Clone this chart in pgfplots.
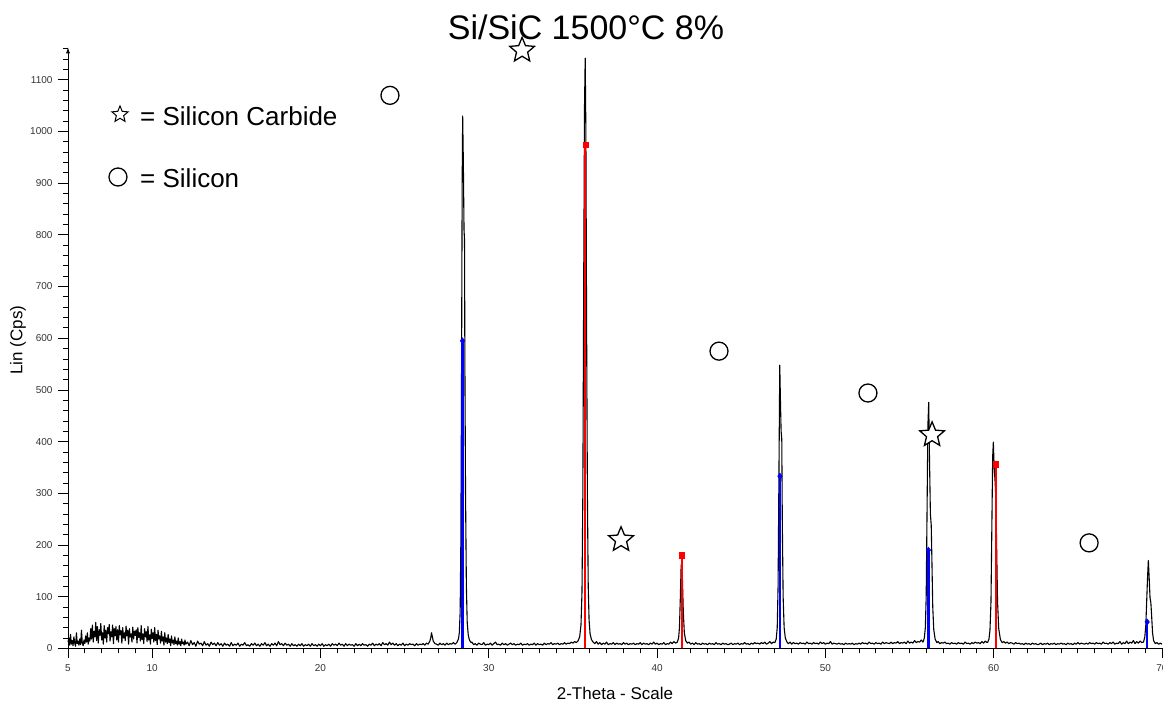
\documentclass[border=0pt]{standalone}
\usepackage{pgfplots}
\pgfplotsset{compat=1.18}
\usepackage{fontspec}
\setmainfont{Liberation Sans}
\usetikzlibrary{arrows.meta}

% open five-point star for the phase markers
\pgfdeclareplotmark{ostar}{%
  \pgfpathmoveto{\pgfpointpolar{90}{\pgfplotmarksize}}%
  \pgfpathlineto{\pgfpointpolar{126}{0.45\pgfplotmarksize}}%
  \pgfpathlineto{\pgfpointpolar{162}{\pgfplotmarksize}}%
  \pgfpathlineto{\pgfpointpolar{198}{0.45\pgfplotmarksize}}%
  \pgfpathlineto{\pgfpointpolar{234}{\pgfplotmarksize}}%
  \pgfpathlineto{\pgfpointpolar{270}{0.45\pgfplotmarksize}}%
  \pgfpathlineto{\pgfpointpolar{306}{\pgfplotmarksize}}%
  \pgfpathlineto{\pgfpointpolar{342}{0.45\pgfplotmarksize}}%
  \pgfpathlineto{\pgfpointpolar{18}{\pgfplotmarksize}}%
  \pgfpathlineto{\pgfpointpolar{54}{0.45\pgfplotmarksize}}%
  \pgfpathclose
  \pgfusepathqfillstroke}

\begin{document}
\begin{tikzpicture}
\begin{axis}[
  at={(0,0)}, anchor=south west,
  scale only axis, width=1094pt, height=601pt,
  xmin=5, xmax=70, ymin=0, ymax=1163,
  clip=false,
  axis x line=bottom, axis y line=left,
  axis line style={line width=0.8pt},
  x axis line style={-},
  y axis line style={-{Latex[length=6pt,width=4pt]}},
  tick align=outside,
  major tick length=10pt, minor tick length=5pt,
  tick style={black, line width=0.8pt},
  xtick={5,10,20,30,40,50,60,70},
  minor xtick={6,7,...,69},
  ytick={0,100,...,1100},
  minor ytick={20,40,...,1160},
  /pgf/number format/1000 sep={},
  /pgf/number format/assume math mode=true,
  tick label style={font=\fontsize{10}{12}\selectfont, color=black!80},
  xticklabel style={yshift=-3pt},
  yticklabel style={xshift=-2pt},
  xlabel={2-Theta - Scale},
  ylabel={Lin (Cps)},
  label style={font=\fontsize{17}{20}\selectfont},
  x label style={at={(axis description cs:0.5,0)}, anchor=center, yshift=-45pt},
  y label style={at={(axis description cs:-0.0457,0.513)}, anchor=center},
  title={Si/SiC 1500°C 8\%},
  title style={at={(axis description cs:0.4735,1)}, anchor=center, yshift=14pt,
    font=\fontsize{34}{40}\selectfont},
]
% measured pattern
\addplot[black, line width=1.1pt, line join=round] coordinates {
(5.00,12) (5.05,20) (5.10,6) (5.15,27) (5.20,8) (5.25,15) (5.30,5) (5.35,22) (5.40,10) (5.45,4)
(5.50,30) (5.55,9) (5.60,14) (5.65,6) (5.70,18) (5.75,7) (5.80,35) (5.85,10) (5.90,5) (5.95,16)
(6.00,9) (6.05,24) (6.10,12) (6.15,30) (6.20,8) (6.25,20) (6.30,14) (6.35,38) (6.40,18) (6.45,45)
(6.50,12) (6.55,33) (6.60,22) (6.65,50) (6.70,15) (6.75,42) (6.80,10) (6.85,36) (6.90,25) (6.95,48)
(7.00,16) (7.05,30) (7.10,8) (7.15,44) (7.20,20) (7.25,35) (7.30,12) (7.35,40) (7.40,28) (7.45,46)
(7.50,14) (7.55,32) (7.60,22) (7.65,45) (7.70,9) (7.75,38) (7.80,24) (7.85,42) (7.90,16) (7.95,36)
(8.00,12) (8.05,44) (8.10,26) (8.15,34) (8.20,10) (8.25,40) (8.30,20) (8.35,30) (8.40,15) (8.45,43)
(8.50,24) (8.55,35) (8.60,8) (8.65,38) (8.70,22) (8.75,28) (8.80,12) (8.85,41) (8.90,18) (8.95,33)
(9.00,25) (9.05,36) (9.10,10) (9.15,40) (9.20,21) (9.25,30) (9.30,14) (9.35,44) (9.40,17) (9.45,28)
(9.50,9) (9.55,38) (9.60,22) (9.65,32) (9.70,13) (9.75,42) (9.80,16) (9.85,26) (9.90,8) (9.95,37)
(10.00,19) (10.05,30) (10.10,12) (10.15,40) (10.20,15) (10.25,27) (10.30,7) (10.35,35) (10.40,18) (10.45,24)
(10.50,10) (10.55,33) (10.60,14) (10.65,22) (10.70,6) (10.75,30) (10.80,12) (10.85,20) (10.90,9) (10.95,27)
(11.00,11) (11.05,18) (11.10,5) (11.15,24) (11.20,10) (11.25,16) (11.30,7) (11.35,22) (11.40,9) (11.45,14)
(11.50,6) (11.55,20) (11.60,8) (11.65,13) (11.70,5) (11.75,18) (11.80,9) (11.85,12) (11.90,6) (11.95,16)
(12.0,8) (12.1,12) (12.2,5) (12.3,15) (12.4,7) (12.5,11) (12.6,4) (12.7,14) (12.8,8) (12.9,10)
(13.0,5) (13.1,13) (13.2,6) (13.3,9) (13.4,4) (13.5,12) (13.6,7) (13.7,10) (13.8,5) (13.9,11)
(14.0,6) (14.1,9) (14.2,4) (14.3,10) (14.4,6) (14.5,8) (14.6,4) (14.7,11) (14.8,5) (14.9,8)
(15.0,6) (15.1,10) (15.2,4) (15.3,8) (15.4,6) (15.5,11) (15.6,5) (15.7,7) (15.8,4) (15.9,9)
(16.0,6) (16.1,10) (16.2,5) (16.3,8) (16.4,4) (16.5,9) (16.6,6) (16.7,11) (16.8,5) (16.9,8)
(17.0,4) (17.1,9) (17.2,6) (17.3,10) (17.4,5) (17.5,13) (17.6,7) (17.7,9) (17.8,5) (17.9,10)
(18.0,6) (18.1,8) (18.2,4) (18.3,9) (18.4,5) (18.5,7) (18.6,4) (18.7,8) (18.8,5) (18.9,9)
(19.0,4) (19.1,7) (19.2,5) (19.3,8) (19.4,4) (19.5,9) (19.6,5) (19.7,7) (19.8,4) (19.9,8)
(20.0,5) (20.1,9) (20.2,4) (20.3,7) (20.4,5) (20.5,8) (20.6,4) (20.7,9) (20.8,6) (20.9,8)
(21.0,5) (21.1,10) (21.2,6) (21.3,8) (21.4,4) (21.5,9) (21.6,5) (21.7,8) (21.8,6) (21.9,7)
(22.0,4) (22.1,9) (22.2,5) (22.3,8) (22.4,5) (22.5,9) (22.6,6) (22.7,7) (22.8,4) (22.9,8)
(23.0,6) (23.1,10) (23.2,5) (23.3,8) (23.4,6) (23.5,9) (23.6,5) (23.7,11) (23.8,7) (23.9,9)
(24.0,6) (24.1,12) (24.2,7) (24.3,10) (24.4,6) (24.5,9) (24.6,5) (24.7,8) (24.8,6) (24.9,10)
(25.0,5) (25.1,8) (25.2,6) (25.3,9) (25.4,7) (25.5,8) (25.6,5) (25.7,9) (25.8,6) (25.9,8)
(26.0,7) (26.1,9) (26.2,6) (26.3,10) (26.4,8) (26.5,14) (26.55,20) (26.6,30) (26.65,22) (26.7,14)
(26.8,9) (26.9,8) (27.0,6) (27.1,10) (27.2,7) (27.3,9) (27.4,6) (27.5,10) (27.6,7) (27.7,9)
(27.8,8) (27.9,11) (28.0,8)
(28.10,11) (28.20,18) (28.25,30) (28.30,70) (28.34,200) (28.38,500) (28.42,900) (28.45,1030)
(28.49,940) (28.53,810) (28.56,790) (28.58,560) (28.62,300) (28.67,120) (28.72,50) (28.78,26)
(28.85,16) (28.95,11)
(29.0,12) (29.1,7) (29.2,9) (29.3,6) (29.4,10) (29.5,8) (29.6,7) (29.7,11) (29.8,6) (29.9,8)
(30.0,7) (30.1,10) (30.2,6) (30.3,9) (30.4,12) (30.5,7) (30.6,8) (30.7,6) (30.8,10) (30.9,7)
(31.0,9) (31.1,6) (31.2,8) (31.3,10) (31.4,7) (31.5,9) (31.6,6) (31.7,8) (31.8,7) (31.9,10)
(32.0,6) (32.1,8) (32.2,7) (32.3,9) (32.4,6) (32.5,8) (32.6,7) (32.7,10) (32.8,6) (32.9,9)
(33.0,7) (33.1,8) (33.2,6) (33.3,10) (33.4,7) (33.5,9) (33.6,8) (33.7,11) (33.8,7) (33.9,9)
(34.0,8) (34.1,10) (34.2,7) (34.3,9) (34.4,8) (34.5,11) (34.6,8) (34.7,10) (34.8,9) (34.9,12)
(35.0,10) (35.1,13) (35.2,11)
(35.30,14) (35.40,22) (35.48,45) (35.54,110) (35.59,300) (35.64,700) (35.69,1050) (35.73,1142)
(35.77,1000) (35.81,650) (35.86,300) (35.91,120) (35.96,55) (36.02,28) (36.10,17) (36.20,12)
(36.3,9) (36.4,13) (36.5,8) (36.6,11) (36.7,7) (36.8,10) (36.9,8)
(37.0,12) (37.1,7) (37.2,9) (37.3,8) (37.4,11) (37.5,7) (37.6,10) (37.7,8) (37.8,9) (37.9,7)
(38.0,11) (38.1,8) (38.2,10) (38.3,7) (38.4,9) (38.5,8) (38.6,10) (38.7,7) (38.8,9) (38.9,8)
(39.0,11) (39.1,7) (39.2,10) (39.3,8) (39.4,9) (39.5,7) (39.6,10) (39.7,8) (39.8,12) (39.9,8)
(40.0,10) (40.1,7) (40.2,9) (40.3,8) (40.4,11) (40.5,7) (40.6,9) (40.7,8) (40.8,12) (40.9,9)
(41.0,13) (41.1,10)
(41.20,12) (41.28,20) (41.33,40) (41.38,95) (41.43,160) (41.47,165) (41.51,130) (41.56,70)
(41.62,30) (41.70,15) (41.80,10)
(41.9,12) (42.0,8) (42.1,10) (42.2,7) (42.3,11) (42.4,8) (42.5,9) (42.6,7) (42.7,10) (42.8,8) (42.9,9)
(43.0,7) (43.1,10) (43.2,8) (43.3,9) (43.4,7) (43.5,11) (43.6,8) (43.7,9) (43.8,7) (43.9,10)
(44.0,8) (44.1,9) (44.2,7) (44.3,8) (44.4,10) (44.5,7) (44.6,9) (44.7,8) (44.8,10) (44.9,7)
(45.0,9) (45.1,8) (45.2,11) (45.3,8) (45.4,9) (45.5,7) (45.6,10) (45.7,8) (45.8,11) (45.9,9)
(46.0,10) (46.1,8) (46.2,11) (46.3,9) (46.4,12) (46.5,8) (46.6,10) (46.7,13) (46.8,9) (46.9,12)
(47.00,11) (47.08,18) (47.14,40) (47.19,120) (47.24,330) (47.29,548) (47.33,480) (47.37,420)
(47.41,405) (47.44,250) (47.49,100) (47.55,40) (47.62,20) (47.72,12)
(47.8,9) (47.9,12) (48.0,8) (48.1,11) (48.2,9) (48.3,10) (48.4,8) (48.5,11) (48.6,9) (48.7,10) (48.8,8) (48.9,12)
(49.0,9) (49.1,10) (49.2,8) (49.3,11) (49.4,9) (49.5,10) (49.6,8) (49.7,12) (49.8,9) (49.9,11)
(50.0,8) (50.1,10) (50.2,9) (50.3,13) (50.4,8) (50.5,10) (50.6,9) (50.7,8) (50.8,10) (50.9,8)
(51.0,9) (51.1,7) (51.2,10) (51.3,8) (51.4,9) (51.5,8) (51.6,10) (51.7,7) (51.8,9) (51.9,8)
(52.0,10) (52.1,8) (52.2,11) (52.3,9) (52.4,10) (52.5,8) (52.6,12) (52.7,9) (52.8,10) (52.9,8)
(53.0,11) (53.1,9) (53.2,10) (53.3,8) (53.4,12) (53.5,9) (53.6,11) (53.7,10) (53.8,9) (53.9,12)
(54.0,9) (54.1,11) (54.2,10) (54.3,13) (54.4,9) (54.5,11) (54.6,10) (54.7,12) (54.8,9) (54.9,14)
(55.0,10) (55.1,12) (55.2,10) (55.3,15) (55.4,11) (55.5,13) (55.6,12) (55.7,16)
(55.80,12) (55.88,20) (55.94,40) (55.99,100) (56.04,260) (56.09,430) (56.14,476) (56.19,360)
(56.24,260) (56.29,238) (56.33,170) (56.38,80) (56.44,36) (56.52,18) (56.62,11)
(56.7,13) (56.8,9) (56.9,11) (57.0,10) (57.1,12) (57.2,9) (57.3,10) (57.4,8) (57.5,11) (57.6,9)
(57.7,10) (57.8,8) (57.9,11) (58.0,9) (58.1,10) (58.2,8) (58.3,12) (58.4,9) (58.5,10) (58.6,8)
(58.7,11) (58.8,9) (58.9,12) (59.0,10) (59.1,11) (59.2,9) (59.3,13) (59.4,10) (59.5,14) (59.6,11)
(59.65,12) (59.72,18) (59.78,35) (59.84,90) (59.89,230) (59.94,370) (59.98,399) (60.03,350)
(60.08,325) (60.13,290) (60.18,190) (60.23,90) (60.30,38) (60.40,17) (60.50,11)
(60.6,13) (60.7,10) (60.8,12) (60.9,9) (61.0,11) (61.1,10) (61.2,8) (61.3,11) (61.4,9) (61.5,10)
(61.6,8) (61.7,9) (61.8,7) (61.9,10) (62.0,8) (62.1,9) (62.2,7) (62.3,10) (62.4,8) (62.5,9)
(62.6,7) (62.7,8) (62.8,10) (62.9,7) (63.0,9) (63.1,8) (63.2,10) (63.3,7) (63.4,9) (63.5,8)
(63.6,10) (63.7,7) (63.8,9) (63.9,8) (64.0,10) (64.1,8) (64.2,9) (64.3,7) (64.4,10) (64.5,8)
(64.6,9) (64.7,7) (64.8,10) (64.9,8) (65.0,11) (65.1,8) (65.2,10) (65.3,9) (65.4,8) (65.5,10)
(65.6,8) (65.7,11) (65.8,9) (65.9,10) (66.0,8) (66.1,11) (66.2,9) (66.3,10) (66.4,8) (66.5,12)
(66.6,9) (66.7,10) (66.8,8) (66.9,11) (67.0,9) (67.1,12) (67.2,8) (67.3,10) (67.4,9) (67.5,13)
(67.6,8) (67.7,11) (67.8,9) (67.9,14) (68.0,9) (68.1,12) (68.2,10) (68.3,15) (68.4,9) (68.5,13)
(68.6,10) (68.7,14) (68.8,11)
(68.90,12) (68.98,22) (69.04,45) (69.09,90) (69.14,135) (69.19,170) (69.24,135) (69.29,98)
(69.34,88) (69.39,60) (69.44,30) (69.50,15) (69.60,9) (69.7,11) (69.8,8) (69.9,10) (70.0,8)
};
% Silicon reference lines
\addplot[blue, ycomb, line width=2.5pt, mark=diamond*, mark size=3pt,
  mark options={line width=0.5pt}] coordinates {
(28.44,595) (47.30,333) (56.12,190) (69.12,51)
};
% Silicon carbide reference lines
\addplot[red, ycomb, line width=2.2pt, mark=square*, mark size=2.6pt,
  mark options={line width=0.5pt}] coordinates {
(35.74,974) (41.47,180) (60.14,356)
};
% phase markers: silicon
\addplot[only marks, mark=o, mark size=9pt, line width=1.3pt, black,
  mark options={fill=white}] coordinates {
(24.13,1070) (43.68,575) (52.53,494) (65.67,204)
};
% phase markers: silicon carbide
\addplot[only marks, mark=ostar, mark size=13pt, line width=1.3pt, black,
  mark options={fill=white, line join=miter}] coordinates {
(31.98,1157) (37.86,210) (56.34,413)
};
% key symbols
\addplot[only marks, mark=ostar, mark size=8.5pt, line width=1pt, black,
  mark options={fill=white, line join=miter}] coordinates {(8.09,1033)};
\addplot[only marks, mark=o, mark size=9pt, line width=1.3pt, black] coordinates {(7.97,912)};
\node[anchor=west, inner sep=0pt, font=\fontsize{26}{30}\selectfont]
  at (axis cs:9.28,1030) {= Silicon Carbide};
\node[anchor=west, inner sep=0pt, font=\fontsize{26}{30}\selectfont]
  at (axis cs:9.28,910) {= Silicon};
\end{axis}
\pgfresetboundingbox
\path (-68pt,-57.7pt) rectangle (1095pt,648.3pt);
\end{tikzpicture}
\end{document}
